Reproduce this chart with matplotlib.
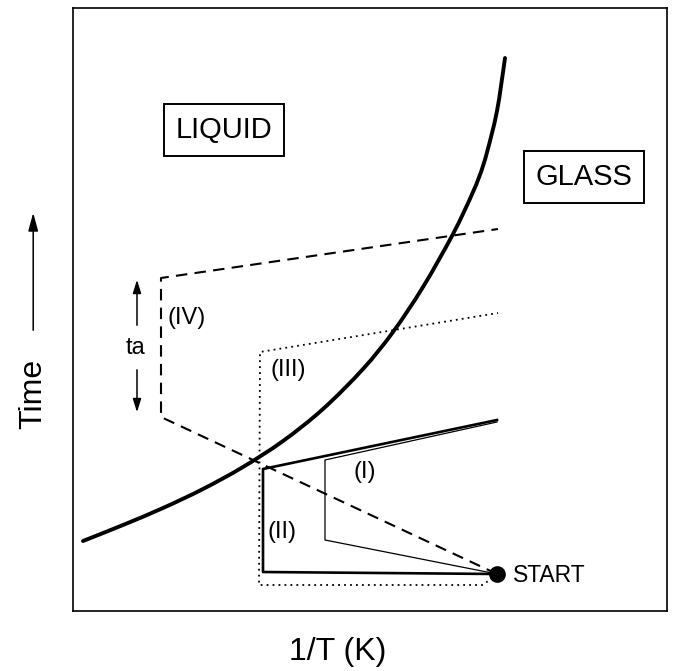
import matplotlib
matplotlib.use("Agg")
import matplotlib.pyplot as plt
import numpy as np
from matplotlib.path import Path
from matplotlib.patches import PathPatch

plt.rcParams["font.family"] = ["Liberation Sans", "DejaVu Sans"]

# Schematic units: x = 1/T (arbitrary), y = time (arbitrary)
start = (424, 37)

# boundary between liquid and glass (thick curve)
curve_x = [10, 50, 90, 130, 170, 210, 250, 290, 320, 350, 380, 400, 410, 418, 424, 428, 432]
curve_y = [70, 86, 103, 122, 144, 170, 202, 242, 279, 324, 377, 419, 445, 474, 500, 525, 553]

# path (II): quench along the bottom, up, then along the thick line
path2_x = [424, 190, 190, 424]
path2_y = [37, 39, 142, 191]

# path (I): thin line
path1_x = [424, 252, 252, 424]
path1_y = [37, 71, 151, 189]

# path (III): dotted
path3_x = [424, 410, 186, 187, 425]
path3_y = [37, 26, 26, 259, 298]

# path (IV): dashed
path4_x = [424, 88, 88, 425]
path4_y = [37, 194, 333, 382]

# ta arrows
ta_x = 64
ta_up = (283, 334)
ta_down = (244, 196)


def smooth_path(xs, ys):
    # Catmull-Rom through the read points, drawn as cubic Bezier segments
    pts = np.column_stack([xs, ys]).astype(float)
    n = len(pts)
    verts = [pts[0]]
    codes = [Path.MOVETO]
    for i in range(n - 1):
        p0 = pts[max(i - 1, 0)]
        p1 = pts[i]
        p2 = pts[i + 1]
        p3 = pts[min(i + 2, n - 1)]
        verts += [p1 + (p2 - p0) / 6, p2 - (p3 - p1) / 6, p2]
        codes += [Path.CURVE4] * 3
    return Path(verts, codes)


fig = plt.figure(figsize=(6.73, 6.71), dpi=100)
ax = fig.add_axes([73 / 673, 60 / 671, 594 / 673, 603 / 671])
ax.set_xlim(0, 594)
ax.set_ylim(0, 603)
ax.set_xticks([])
ax.set_yticks([])
for sp in ax.spines.values():
    sp.set_linewidth(1.2)

ax.add_patch(PathPatch(smooth_path(curve_x, curve_y), fill=False, ec="black",
                       lw=2.8, capstyle="round"))
ax.plot(path2_x, path2_y, color="black", lw=1.9)
ax.plot(path1_x, path1_y, color="black", lw=0.9)
ax.plot(path3_x, path3_y, color="black", lw=1.3, dashes=(1, 2.3))
ax.plot(path4_x, path4_y, color="black", lw=1.5, dashes=(5.5, 3.5))
ax.plot(*start, "o", color="black", ms=11)

arrow = dict(arrowstyle="-|>,head_length=0.8,head_width=0.25", color="black", lw=1.1)
ax.annotate("", xy=(ta_x, ta_up[1]), xytext=(ta_x, ta_up[0]), arrowprops=arrow)
ax.annotate("", xy=(ta_x, ta_down[1]), xytext=(ta_x, ta_down[0]), arrowprops=arrow)
ax.text(ta_x - 2, 263, "ta", fontsize=17, ha="center", va="center")

ax.text(114, 293, "(IV)", fontsize=17, ha="center", va="center")
ax.text(215, 241, "(III)", fontsize=17, ha="center", va="center")
ax.text(209, 79, "(II)", fontsize=17, ha="center", va="center")
ax.text(292, 139, "(I)", fontsize=17, ha="center", va="center")
ax.text(440, 36, "START", fontsize=16.5, ha="left", va="center")

box = dict(boxstyle="square,pad=0.4", fc="white", ec="black", lw=1.4)
ax.text(151, 481, "LIQUID", fontsize=21, ha="center", va="center", bbox=box)
ax.text(511, 434, "GLASS", fontsize=21, ha="center", va="center", bbox=box)

# axis labels
ax.text(0.446, -0.068, "1/T (K)", transform=ax.transAxes, fontsize=23,
        ha="center", va="center")
ax.text(-0.067, 0.36, "Time", transform=ax.transAxes, fontsize=23,
        rotation=90, ha="center", va="center")
ax.annotate("", xy=(-0.067, 0.665), xytext=(-0.067, 0.461),
            xycoords="axes fraction", textcoords="axes fraction",
            arrowprops=dict(arrowstyle="-|>,head_length=1.1,head_width=0.3",
                            color="black", lw=1.1), annotation_clip=False)

fig.savefig("out.png", dpi=100)
